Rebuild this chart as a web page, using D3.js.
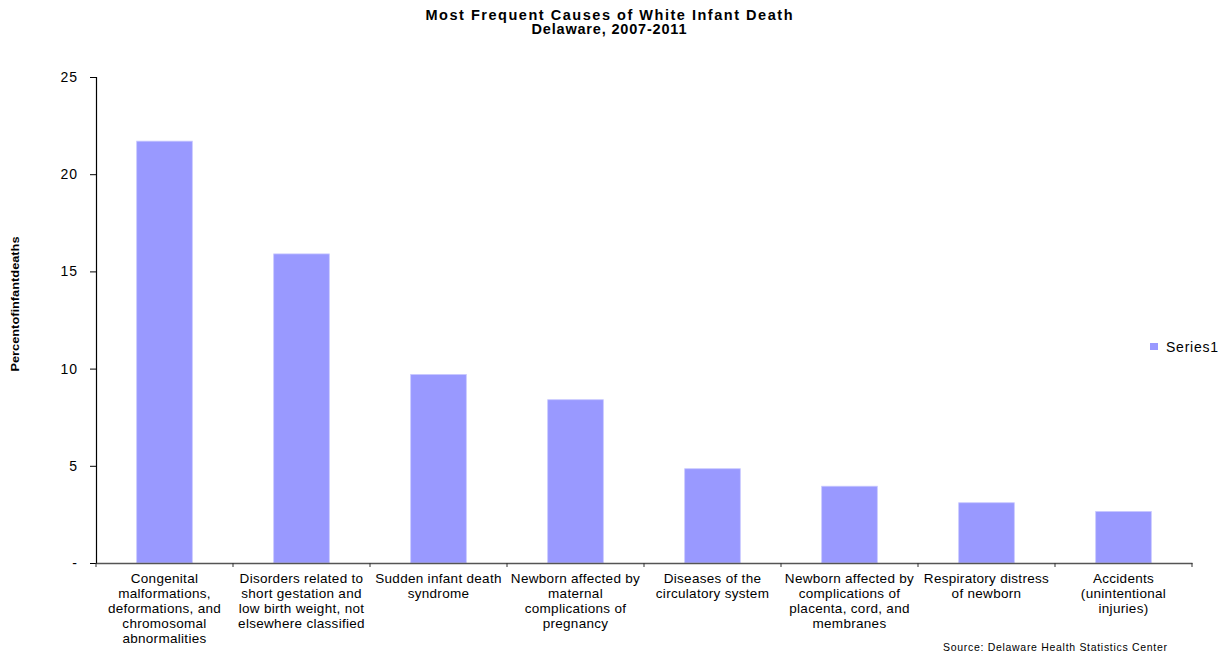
<!DOCTYPE html>
<html>
<head>
<meta charset="utf-8">
<script src="https://cdn.jsdelivr.net/npm/d3@7"></script>
<style>
  body { margin: 0; background: #fff; }
  text { font-family: Arial, "Liberation Sans", sans-serif; }
</style>
</head>
<body>
<svg id="chart" width="1222" height="653"></svg>
<script>
const categories = [
  "Congenital malformations, deformations, and chromosomal abnormalities",
  "Disorders related to short gestation and low birth weight, not elsewhere classified",
  "Sudden infant death syndrome",
  "Newborn affected by maternal complications of pregnancy",
  "Diseases of the circulatory system",
  "Newborn affected by complications of placenta, cord, and membranes",
  "Respiratory distress of newborn",
  "Accidents (unintentional injuries)"
];
const categoryLines = [
  ["Congenital", "malformations,", "deformations, and", "chromosomal", "abnormalities"],
  ["Disorders related to", "short gestation and", "low birth weight, not", "elsewhere classified"],
  ["Sudden infant death", "syndrome"],
  ["Newborn affected by", "maternal", "complications of", "pregnancy"],
  ["Diseases of the", "circulatory system"],
  ["Newborn affected by", "complications of", "placenta, cord, and", "membranes"],
  ["Respiratory distress", "of newborn"],
  ["Accidents", "(unintentional", "injuries)"]
];
const series1 = [21.7, 15.9, 9.7, 8.4, 4.85, 3.95, 3.1, 2.65];
const yTicks = [0, 5, 10, 15, 20, 25];
const yTickLabels = ["-", "5", "10", "15", "20", "25"];
const seriesName = "Series1";
const titleLines = ["Most Frequent Causes of White Infant Death", "Delaware, 2007-2011"];
const yAxisTitle = "Percent of infant deaths";
const sourceText = "Source:  Delaware Health Statistics Center";

const svg = d3.select("#chart");
const mLeft = 96, mRight = 1192, mTop = 77, mBottom = 563;
const barColor = "#9999FF";

const y = d3.scaleLinear().domain([0, 25]).range([mBottom, mTop]);
const xBand = d3.scaleBand().domain(categories).range([mLeft, mRight]).padding(0);
const xBar = d3.scaleBand().domain(categories).range([mLeft, mRight])
  .paddingInner(0.594).paddingOuter(0.297);

// bars
svg.append("g").selectAll("rect").data(series1).join("rect")
  .attr("x", (d, i) => xBar(categories[i]))
  .attr("y", d => y(d))
  .attr("width", xBar.bandwidth())
  .attr("height", d => y(0) - y(d))
  .attr("fill", barColor)
  .attr("stroke", "#c8c8ff")
  .attr("stroke-width", 0.8);

// y axis
const yAxis = d3.axisLeft(y).tickValues(yTicks)
  .tickFormat((d, i) => yTickLabels[i]).tickSize(6).tickPadding(12);
const gy = svg.append("g").attr("transform", `translate(${mLeft},0)`).call(yAxis);
gy.select(".domain").attr("stroke", "#000").attr("stroke-width", 1.2);
gy.selectAll(".tick line").attr("stroke", "#000");
gy.selectAll(".tick text").attr("font-size", 14).attr("fill", "#000")
  .attr("letter-spacing", 1)
  .attr("font-family", "Arial, 'Liberation Sans', sans-serif");

// x axis
const xAxis = d3.axisBottom(xBand).tickSize(0).tickFormat("");
const gx = svg.append("g").attr("transform", `translate(0,${mBottom})`).call(xAxis);
gx.select(".domain").attr("stroke", "#555").attr("stroke-width", 1.5);
gx.selectAll(".tick").remove();
// category boundary ticks
const bounds = categories.map(c => xBand(c)).concat([mRight]);
svg.append("g").selectAll("line").data(bounds).join("line")
  .attr("x1", d => d).attr("x2", d => d)
  .attr("y1", mBottom).attr("y2", mBottom + 4)
  .attr("stroke", "#333").attr("stroke-width", 1);

// category labels
const lab = svg.append("g");
categoryLines.forEach((lines, i) => {
  const cx = xBand(categories[i]) + xBand.bandwidth() / 2;
  const t = lab.append("text").attr("text-anchor", "middle")
    .attr("font-size", 13.5).attr("letter-spacing", 0.3).attr("fill", "#000");
  lines.forEach((ln, j) => {
    t.append("tspan").attr("x", cx).attr("y", 583 + j * 15).text(ln);
  });
});

// title
const titleWidths = [367, 155];
titleLines.forEach((ln, j) => {
  svg.append("text").attr("text-anchor", "middle")
    .attr("font-weight", "bold").attr("font-size", 14.5).attr("fill", "#000")
    .attr("x", 609).attr("y", 20 + j * 14)
    .attr("textLength", titleWidths[j]).attr("lengthAdjust", "spacing")
    .text(ln);
});

// y axis title
svg.append("text")
  .attr("transform", `translate(19,304) rotate(-90)`)
  .attr("text-anchor", "middle")
  .attr("font-weight", "bold").attr("font-size", 11)
  .attr("word-spacing", -3)
  .attr("textLength", 135).attr("lengthAdjust", "spacingAndGlyphs")
  .attr("fill", "#000")
  .text(yAxisTitle);

// legend
svg.append("rect").attr("x", 1150).attr("y", 343).attr("width", 8).attr("height", 7)
  .attr("fill", barColor);
svg.append("text").attr("x", 1166).attr("y", 351.5)
  .attr("font-size", 14).attr("fill", "#000")
  .attr("textLength", 52).attr("lengthAdjust", "spacing").text(seriesName);

// source
svg.append("text").attr("x", 943).attr("y", 651)
  .attr("font-size", 10.5).attr("fill", "#000")
  .attr("textLength", 224).attr("lengthAdjust", "spacing").text(sourceText);
</script>
</body>
</html>
